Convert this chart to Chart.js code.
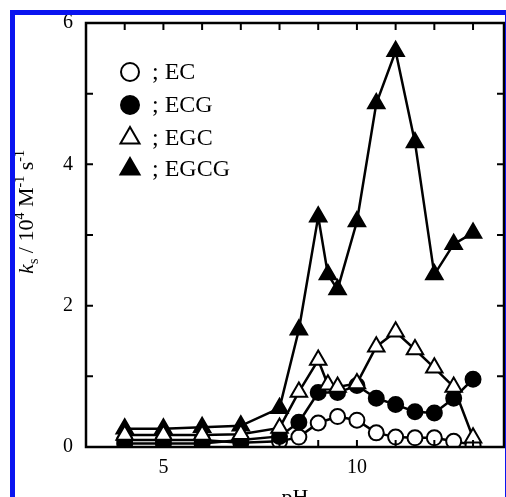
<!DOCTYPE html>
<html>
<head>
<meta charset="utf-8">
<script src="https://cdn.jsdelivr.net/npm/chart.js"></script>
<style>
  html, body { margin: 0; padding: 0; background: #fff; overflow: hidden; }
  #wrap { position: relative; width: 506px; height: 497px; }
  #c { position: absolute; left: 0; top: 0; }
  .blue { position: absolute; background: #0a14f0; pointer-events: none; }
</style>
</head>
<body>
<div id="wrap">
  <canvas id="c" width="506" height="497"></canvas>
  <div class="blue" style="left:10px;top:10px;width:5px;height:487px"></div>
  <div class="blue" style="left:10px;top:10px;width:496px;height:5px"></div>
  <div class="blue" style="left:505px;top:10px;width:1px;height:487px"></div>
</div>
<script>
// pH values per series
const phEC   = [4, 5, 6, 7, 8, 8.5, 9, 9.5, 10, 10.5, 11, 11.5, 12, 12.5, 13];
const phECG  = [4, 5, 6, 7, 8, 8.5, 9, 9.5, 10, 10.5, 11, 11.5, 12, 12.5, 13];
const phEGC  = [4, 5, 6, 7, 8, 8.5, 9, 9.25, 9.5, 10, 10.5, 11, 11.5, 12, 12.5, 13];
const phEGCG = [4, 5, 6, 7, 8, 8.5, 9, 9.25, 9.5, 10, 10.5, 11, 11.5, 12, 12.5, 13];

// k_s / 10^4 M^-1 s^-1
const ksEC   = [0.10, 0.10, 0.10, 0.06, 0.08, 0.14, 0.34, 0.43, 0.38, 0.20, 0.14, 0.13, 0.13, 0.08, 0.03];
const ksECG  = [0.05, 0.05, 0.05, 0.10, 0.15, 0.35, 0.77, 0.77, 0.87, 0.69, 0.60, 0.50, 0.48, 0.69, 0.96];
const ksEGC  = [0.17, 0.17, 0.17, 0.18, 0.27, 0.78, 1.23, 0.88, 0.85, 0.90, 1.42, 1.63, 1.38, 1.12, 0.85, 0.13];
const ksEGCG = [0.26, 0.26, 0.28, 0.30, 0.55, 1.66, 3.26, 2.44, 2.23, 3.19, 4.86, 5.60, 4.31, 2.44, 2.87, 3.03];

const seriesNames = ['EC', 'ECG', 'EGC', 'EGCG'];
const xTickLabels = [5, 10];
const yTickLabels = [0, 2, 4, 6];

const SERIF = "'Liberation Serif', 'DejaVu Serif', serif";

function pts(xs, ys) {
    return xs.map((x, i) => ({x: x, y: ys[i]}));
}

function series(label, xs, ys, style, filled, radius, order) {
    return {
        label: label,
        data: pts(xs, ys),
        showLine: true,
        borderColor: 'black',
        borderWidth: 2.5,
        pointStyle: style,
        pointRadius: radius,
        pointHoverRadius: radius,
        pointBackgroundColor: filled ? 'black' : 'white',
        pointBorderColor: 'black',
        pointBorderWidth: 2,
        order: order
    };
}

// draws one legend marker
function marker(ctx, style, filled, x, y, r) {
    ctx.save();
    ctx.beginPath();
    if (style === 'circle') {
        ctx.arc(x, y, r, 0, Math.PI * 2);
    } else {
        for (var k = 0; k < 3; k++) {
            var a = -Math.PI / 2 + k * 2 * Math.PI / 3;
            var px = x + Math.cos(a) * r, py = y + Math.sin(a) * r;
            if (k === 0) ctx.moveTo(px, py); else ctx.lineTo(px, py);
        }
        ctx.closePath();
    }
    ctx.fillStyle = filled ? 'black' : 'white';
    ctx.fill();
    ctx.lineWidth = 2;
    ctx.strokeStyle = 'black';
    ctx.stroke();
    ctx.restore();
}

const decor = {
    id: 'decor',
    afterDraw: function (chart) {
        var ctx = chart.ctx;
        var a = chart.chartArea;
        var xs = chart.scales.x, ys = chart.scales.y;
        ctx.save();
        ctx.strokeStyle = 'black';

        // frame
        ctx.lineWidth = 2.5;
        ctx.strokeRect(a.left, a.top, a.right - a.left, a.bottom - a.top);

        // inward ticks
        ctx.lineWidth = 2;
        ctx.beginPath();
        for (var v = 4; v <= 13; v++) {
            var px = xs.getPixelForValue(v);
            ctx.moveTo(px, a.bottom); ctx.lineTo(px, a.bottom - 7);
            ctx.moveTo(px, a.top); ctx.lineTo(px, a.top + 7);
        }
        for (var w = 1; w <= 5; w++) {
            var py = ys.getPixelForValue(w);
            ctx.moveTo(a.left, py); ctx.lineTo(a.left + 7, py);
            ctx.moveTo(a.right, py); ctx.lineTo(a.right - 7, py);
        }
        ctx.stroke();

        // legend
        var styles = [['circle', false], ['circle', true], ['triangle', false], ['triangle', true]];
        var rowY = [72, 105, 138, 169];
        ctx.fillStyle = 'black';
        ctx.font = '24px ' + SERIF;
        ctx.textBaseline = 'middle';
        ctx.textAlign = 'left';
        for (var i = 0; i < seriesNames.length; i++) {
            marker(ctx, styles[i][0], styles[i][1], 130, rowY[i], styles[i][0] === 'circle' ? 9 : 11);
            ctx.fillText('; ' + seriesNames[i], 152, rowY[i] + 1);
        }

        // x title
        ctx.font = '22px ' + SERIF;
        ctx.textAlign = 'center';
        ctx.textBaseline = 'top';
        ctx.fillText('pH', (a.left + a.right) / 2, 487);

        // y title, rotated
        var parts = [
            ['k', 'italic 22px ' + SERIF, 0],
            ['s', '14px ' + SERIF, 5],
            [' / 10', '22px ' + SERIF, 0],
            ['4', '14px ' + SERIF, -9],
            [' M', '22px ' + SERIF, 0],
            ['-1', '14px ' + SERIF, -9],
            [' s', '22px ' + SERIF, 0],
            ['-1', '14px ' + SERIF, -9]
        ];
        var total = 0;
        parts.forEach(function (p) { ctx.font = p[1]; total += ctx.measureText(p[0]).width; });
        ctx.translate(33, 212);
        ctx.rotate(-Math.PI / 2);
        ctx.textAlign = 'left';
        ctx.textBaseline = 'alphabetic';
        var cx = -total / 2;
        parts.forEach(function (p) {
            ctx.font = p[1];
            ctx.fillText(p[0], cx, p[2]);
            cx += ctx.measureText(p[0]).width;
        });
        ctx.restore();
    }
};

new Chart(document.getElementById('c'), {
    type: 'scatter',
    data: {
        datasets: [
            series('EC', phEC, ksEC, 'circle', false, 7.5, 3),
            series('ECG', phECG, ksECG, 'circle', true, 7.5, 2),
            series('EGC', phEGC, ksEGC, 'triangle', false, 9.5, 1),
            series('EGCG', phEGCG, ksEGCG, 'triangle', true, 9.5, 4)
        ]
    },
    options: {
        responsive: false,
        animation: false,
        layout: { padding: { left: 0, top: 23, right: 2, bottom: 0 }, autoPadding: false },
        plugins: { legend: { display: false }, tooltip: { enabled: false } },
        scales: {
            x: {
                type: 'linear',
                min: 3,
                max: 13.8,
                grid: { display: false, drawTicks: false },
                border: { display: false },
                afterBuildTicks: function (s) { s.ticks = xTickLabels.map(v => ({value: v})); },
                afterFit: function (s) { s.height = 50; s.paddingLeft = 0; s.paddingRight = 0; },
                ticks: {
                    color: 'black',
                    padding: 9,
                    maxRotation: 0,
                    font: { family: SERIF, size: 20 }
                }
            },
            y: {
                min: 0,
                max: 6,
                grid: { display: false, drawTicks: false },
                border: { display: false },
                afterBuildTicks: function (s) { s.ticks = yTickLabels.map(v => ({value: v})); },
                afterFit: function (s) { s.width = 86; s.paddingTop = 0; s.paddingBottom = 0; },
                ticks: {
                    color: 'black',
                    padding: 13,
                    font: { family: SERIF, size: 20 }
                }
            }
        }
    },
    plugins: [decor]
});
</script>
</body>
</html>
